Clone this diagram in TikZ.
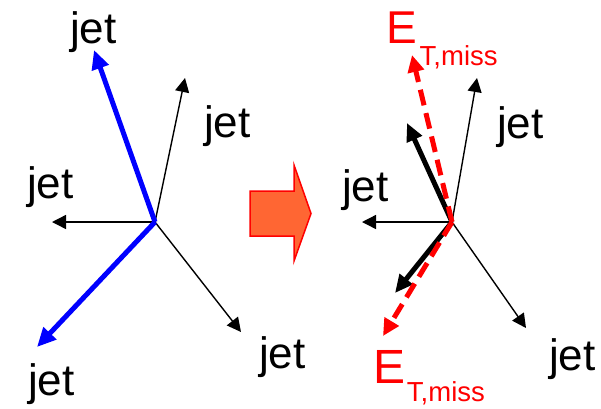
\documentclass[tikz,border=0pt]{standalone}
\usepackage{fontspec}
\setmainfont{Liberation Sans}
\usetikzlibrary{arrows.meta}
\definecolor{blockfill}{HTML}{FF6633}
\tikzset{
  jetlabel/.style={anchor=base west, inner sep=0pt, font=\fontsize{44}{44}\selectfont},
  elabel/.style={anchor=base west, inner sep=0pt, text=red},
  thinvec/.style={line width=1.4pt, -{Triangle[length=14pt,width=14pt]}},
  bluevec/.style={line width=5pt, blue, -{Triangle[length=19pt,width=17pt]}},
  thickvec/.style={line width=5pt, black, -{Triangle[length=18pt,width=16pt]}},
  missvec/.style={line width=5pt, red, dash pattern=on 16pt off 8pt, -{Triangle[length=17pt,width=16pt]}},
  blockarrow/.style={fill=blockfill, draw=red, line width=1.5pt, line join=miter}
}
% #1 = E size, #2 = gap, #3 = drop of the subscript
\newcommand{\emiss}[3]{{\fontsize{#1}{#1}\selectfont E}\hspace{#2}\raisebox{-#3}{\fontsize{27.5}{27.5}\selectfont T,miss}}
\begin{document}
\begin{tikzpicture}[x=1pt,y=-1pt]
\useasboundingbox (0,0) rectangle (601,408);
% left panel
\coordinate (O1) at (155,222);
\coordinate (a1) at (94,50);
\coordinate (a2) at (37,347);
\coordinate (a3) at (185,78);
\coordinate (a4) at (52,222);
\coordinate (a5) at (241,332);
\draw[thinvec] (O1) -- (a3);
\draw[thinvec] (O1) -- (a4);
\draw[thinvec] (O1) -- (a5);
\draw[bluevec] (O1) -- (a1);
\draw[bluevec] (O1) -- (a2);
\node[jetlabel] (l1) at (70,43) {jet};
\node[jetlabel] (l2) at (204,137) {jet};
\node[jetlabel] (l3) at (27,198) {jet};
\node[jetlabel] (l4) at (28,395) {jet};
\node[jetlabel] (l5) at (259,368) {jet};
% block arrow
\draw[blockarrow] (250,191) -- (294,191) -- (294,165) -- (311,213.5) -- (294,261) -- (294,236) -- (250,236) -- cycle;
% right panel
\coordinate (O2) at (452,222);
\coordinate (b3) at (477,78);
\coordinate (b4) at (362,222);
\coordinate (b5) at (526,328);
\coordinate (k1) at (407,123);
\coordinate (k2) at (395,293);
\coordinate (m1) at (412,55);
\coordinate (m2) at (383,336);
\draw[thinvec] (O2) -- (b3);
\draw[thinvec] (O2) -- (b4);
\draw[thinvec] (O2) -- (b5);
\draw[thickvec] (O2) -- (k1);
\draw[thickvec] (O2) -- (k2);
\draw[missvec] (O2) -- (m1);
\draw[missvec] (O2) -- (m2);
\node[jetlabel] (r1) at (497,138) {jet};
\node[jetlabel] (r2) at (342,201) {jet};
\node[jetlabel] (r3) at (549,370) {jet};
\node[elabel] (e1) at (386.4,43) {\emiss{46}{2.4pt}{22pt}};
\node[elabel] (e2) at (373.2,383) {\emiss{48}{1.5pt}{18pt}};
\end{tikzpicture}
\end{document}
